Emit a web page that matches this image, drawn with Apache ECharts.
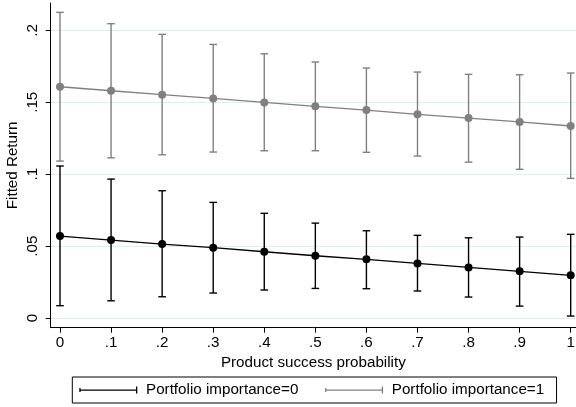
<!DOCTYPE html>
<html>
<head>
<meta charset="utf-8">
<script src="https://cdn.jsdelivr.net/npm/echarts@6/dist/echarts.min.js"></script>
<style>
  html, body { margin: 0; padding: 0; background: #fff; }
  #chart { width: 576px; height: 407px; }
</style>
</head>
<body>
<div id="chart"></div>
<script>
// Product success probability (x positions)
const successProb = [0, 0.1, 0.2, 0.3, 0.4, 0.5, 0.6, 0.7, 0.8, 0.9, 1];

// Portfolio importance = 0: fitted return and 95% CI
const fit0  = [0.0570, 0.0542, 0.0514, 0.0489, 0.0461, 0.0433, 0.0408, 0.0380, 0.0352, 0.0325, 0.0297];
const low0  = [0.0086, 0.0120, 0.0148, 0.0174, 0.0195, 0.0206, 0.0204, 0.0188, 0.0146, 0.0083, 0.0014];
const high0 = [0.1057, 0.0966, 0.0885, 0.0804, 0.0728, 0.0660, 0.0607, 0.0575, 0.0558, 0.0563, 0.0582];

// Portfolio importance = 1: fitted return and 95% CI
const fit1  = [0.1608, 0.1580, 0.1553, 0.1527, 0.1499, 0.1472, 0.1446, 0.1416, 0.1390, 0.1363, 0.1335];
const low1  = [0.1091, 0.1114, 0.1135, 0.1154, 0.1163, 0.1163, 0.1152, 0.1126, 0.1084, 0.1034, 0.0971];
const high1 = [0.2125, 0.2046, 0.1972, 0.1902, 0.1837, 0.1780, 0.1738, 0.1710, 0.1694, 0.1691, 0.1703];

// Tick positions
const xTicks = [0, 0.1, 0.2, 0.3, 0.4, 0.5, 0.6, 0.7, 0.8, 0.9, 1];
const yTicks = [0, 0.05, 0.1, 0.15, 0.2];

const seriesNames = ['Portfolio importance=0', 'Portfolio importance=1'];
const BLACK = '#000000';
const GRAY = '#808080';
const FONT = 'Liberation Sans, Arial, Helvetica, sans-serif';
const FS = 15.2;

// Stata-style number format: drop the leading zero
function stataNum(v) {
  let s = String(Math.round(v * 1000) / 1000);
  if (s.startsWith('0.')) s = s.slice(1);
  return s;
}

function zip3(a, b, c) { return a.map((v, i) => [v, b[i], c[i]]); }
function zip2(a, b) { return a.map((v, i) => [v, b[i]]); }

function capRenderer(color) {
  return function (params, api) {
    const x = api.value(0);
    const pLo = api.coord([x, api.value(1)]);
    const pHi = api.coord([x, api.value(2)]);
    const hw = 3.8;
    const st = { stroke: color, lineWidth: 1.4 };
    return {
      type: 'group',
      children: [
        { type: 'line', shape: { x1: pLo[0], y1: pLo[1], x2: pHi[0], y2: pHi[1] }, style: st },
        { type: 'line', shape: { x1: pLo[0] - hw, y1: pLo[1], x2: pLo[0] + hw, y2: pLo[1] }, style: st },
        { type: 'line', shape: { x1: pHi[0] - hw, y1: pHi[1], x2: pHi[0] + hw, y2: pHi[1] }, style: st }
      ]
    };
  };
}

// Legend key: horizontal bar, short tick at the left end, cap at the right end
const capIcon = 'path://M0,1.5h1.3v4h-1.3z M0,3h58v1.2h-58z M56.7,0h1.3v7h-1.3z';

const chart = echarts.init(document.getElementById('chart'), null, { renderer: 'canvas' });

chart.setOption({
  animation: false,
  backgroundColor: '#ffffff',
  textStyle: { fontFamily: FONT },
  grid: { left: 50.7, right: 0, top: 3, bottom: 79.3, containLabel: false, outerBoundsMode: 'none' },
  xAxis: {
    type: 'value',
    min: -0.0182,
    max: 1.0104,
    name: 'Product success probability',
    nameLocation: 'middle',
    nameGap: 24.5,
    nameTextStyle: { color: '#000', fontSize: FS, fontFamily: FONT },
    axisLine: { show: true, onZero: false, lineStyle: { color: '#000', width: 1 } },
    axisTick: { show: true, length: 5, customValues: xTicks, lineStyle: { color: '#000' } },
    axisLabel: { customValues: xTicks, color: '#000', fontSize: FS, margin: 8, fontFamily: FONT, formatter: stataNum },
    splitLine: { show: false }
  },
  yAxis: {
    type: 'value',
    min: -0.0067,
    max: 0.219,
    name: 'Fitted Return',
    nameLocation: 'middle',
    nameMoveOverlap: false,
    nameGap: 30,
    nameTextStyle: { color: '#000', fontSize: FS, fontFamily: FONT },
    axisLine: { show: true, onZero: false, lineStyle: { color: '#000', width: 1 } },
    axisTick: { show: true, length: 5, customValues: yTicks, lineStyle: { color: '#000' } },
    axisLabel: { customValues: yTicks, rotate: 90, color: '#000', fontSize: FS, margin: 10, fontFamily: FONT, formatter: stataNum },
    splitLine: { show: true, lineStyle: { color: '#e3ecef', width: 1 } }
  },
  legend: {
    left: 72.3,
    top: 377,
    orient: 'horizontal',
    borderColor: '#000',
    borderWidth: 1,
    padding: [5.5, 12.4, 5.5, 7],
    itemGap: 26.7,
    itemWidth: 58,
    itemHeight: 7,
    textStyle: { color: '#000', fontSize: FS, fontFamily: FONT, padding: [0, 0, 0, 3.7] },
    data: [
      { name: seriesNames[0], icon: capIcon },
      { name: seriesNames[1], icon: capIcon }
    ]
  },
  series: [
    {
      name: seriesNames[0],
      type: 'custom',
      renderItem: capRenderer(BLACK),
      itemStyle: { color: BLACK },
      encode: { x: 0, y: [1, 2] },
      data: zip3(successProb, low0, high0),
      z: 2
    },
    {
      name: 'fit0',
      type: 'line',
      data: zip2(successProb, fit0),
      symbol: 'circle',
      symbolSize: 8,
      lineStyle: { color: BLACK, width: 1.3 },
      itemStyle: { color: BLACK },
      z: 3
    },
    {
      name: seriesNames[1],
      type: 'custom',
      renderItem: capRenderer(GRAY),
      itemStyle: { color: GRAY },
      encode: { x: 0, y: [1, 2] },
      data: zip3(successProb, low1, high1),
      z: 2
    },
    {
      name: 'fit1',
      type: 'line',
      data: zip2(successProb, fit1),
      symbol: 'circle',
      symbolSize: 8,
      lineStyle: { color: GRAY, width: 1.3 },
      itemStyle: { color: GRAY },
      z: 3
    }
  ]
});
</script>
</body>
</html>
